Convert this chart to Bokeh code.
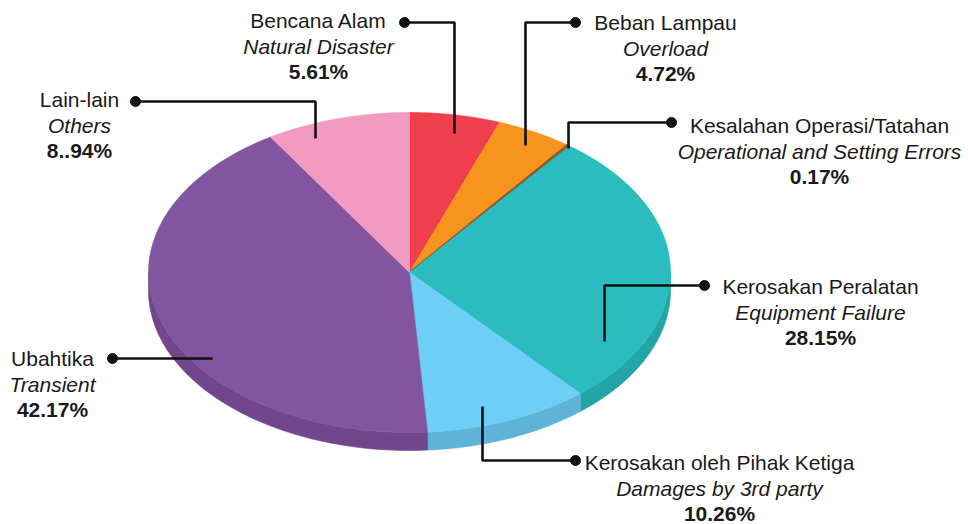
import numpy as np
from bokeh.plotting import figure
from bokeh.models import Range1d
from bokeh.core.properties import value
from bokeh.embed import file_html
from bokeh.resources import INLINE

# ---------------- data ----------------
names_ms = ["Bencana Alam", "Beban Lampau", "Kesalahan Operasi/Tatahan",
            "Kerosakan Peralatan", "Kerosakan oleh Pihak Ketiga", "Ubahtika", "Lain-lain"]
names_en = ["Natural Disaster", "Overload", "Operational and Setting Errors",
            "Equipment Failure", "Damages by 3rd party", "Transient", "Others"]
shares = [5.61, 4.72, 0.17, 28.15, 10.26, 42.17, 8.94]
share_labels = ["5.61%", "4.72%", "0.17%", "28.15%", "10.26%", "42.17%", "8..94%"]

# ---------------- styles / layout ----------------
top_colors = ["#EF3F4C", "#F7941E", "#8E5A30", "#2ABCBF", "#6DCFF5", "#8255A1", "#F39AC1"]
side_colors = ["#C8323D", "#D27C18", "#74492A", "#23A5A7", "#5FB3D6", "#71468D", "#D384A6"]
edge_widths = [0.6, 0.6, 1.8, 0.6, 0.6, 0.6, 0.6]

W, H = 968, 524
CX, CY = 409, 272      # pie centre (page pixels)
RA, RB = 261, 160      # ellipse semi axes
DEPTH = 18

labels_layout = [
    dict(tx=318, ty=20, path=[(404, 22), (454, 22), (454, 133)]),
    dict(tx=665, ty=22, path=[(575, 22), (525, 22), (525, 145)]),
    dict(tx=819, ty=125, path=[(671, 122), (568, 122), (568, 148)]),
    dict(tx=820, ty=286, path=[(704, 285), (604, 285), (604, 341)]),
    dict(tx=719, ty=462, path=[(575, 460), (482, 460), (482, 406)]),
    dict(tx=52, ty=358, path=[(112, 358), (212, 358)]),
    dict(tx=79, ty=99, path=[(135, 101), (315, 101), (315, 138)]),
]
LINE_GAP = 25.5

p = figure(width=W, height=H, x_range=Range1d(0, W), y_range=Range1d(H, 0),
           output_backend="svg", toolbar_location=None, min_border=0)
p.axis.visible = False
p.grid.visible = False
p.outline_line_color = None
p.background_fill_color = "white"

def ell(t, dy=0.0):
    return CX + RA * np.sin(t), CY - RB * np.cos(t) + dy

total = sum(shares)
bounds = np.concatenate([[0], np.cumsum(shares)]) / total * 2 * np.pi

# ---- sides (front half only) ----
sx, sy, sc = [], [], []
for i in range(len(shares)):
    a0, a1 = max(bounds[i], np.pi / 2), min(bounds[i + 1], 3 * np.pi / 2)
    if a1 <= a0:
        continue
    t = np.linspace(a0, a1, 80)
    x1, y1 = ell(t)
    x2, y2 = ell(t[::-1], DEPTH)
    sx.append(list(np.concatenate([x1, x2])))
    sy.append(list(np.concatenate([y1, y2])))
    sc.append(side_colors[i])
p.patches(xs=sx, ys=sy, fill_color=sc, line_color=sc, line_width=0.6)

# ---- top face ----
tx_, ty_, tc = [], [], []
for i in range(len(shares)):
    t = np.linspace(bounds[i], bounds[i + 1], max(4, int(shares[i] * 4)))
    ex, ey = ell(t)
    tx_.append([CX] + list(ex))
    ty_.append([CY] + list(ey))
    tc.append(top_colors[i])
p.patches(xs=tx_, ys=ty_, fill_color=tc, line_color=tc, line_width=edge_widths)

# ---- leader lines and labels ----
for i, lay in enumerate(labels_layout):
    xs = [a for a, b in lay["path"]]
    ys = [b for a, b in lay["path"]]
    p.line(xs, ys, line_color="#111111", line_width=2.6)
    p.scatter([xs[0]], [ys[0]], size=10, fill_color="#111111", line_color="#111111")
    for k, (txt, style) in enumerate([(names_ms[i], "normal"), (names_en[i], "italic"),
                                      (share_labels[i], "bold")]):
        p.text(x=[lay["tx"]], y=[lay["ty"] + k * LINE_GAP], text=[txt],
               text_font=value("Liberation Sans"), text_font_size="21px",
               text_font_style=style, text_align="center", text_baseline="middle",
               text_color="#1a1a1a")

open("out.html", "w").write(file_html(p, INLINE))
